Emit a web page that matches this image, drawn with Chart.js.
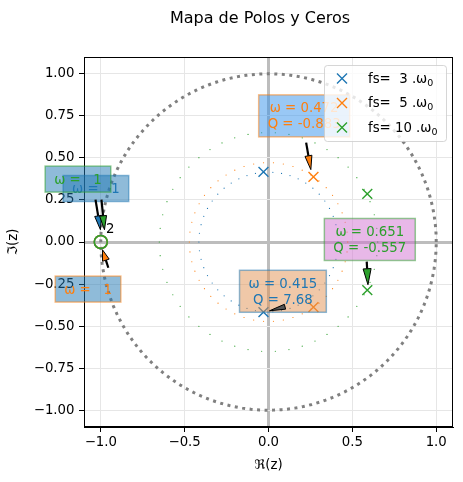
<!DOCTYPE html>
<html>
<head>
<meta charset="utf-8">
<script src="https://cdn.jsdelivr.net/npm/chart.js@4.4.1/dist/chart.umd.min.js"></script>
<style>html,body{margin:0;padding:0;background:#fff}</style>
</head>
<body>
<canvas id="chart" width="463" height="482"></canvas>
<script>
// data
const seriesLabels = ['fs=  3 .ω', 'fs=  5 .ω', 'fs= 10 .ω'];
const fs3PoleRe = [-0.03, -0.03],  fs3PoleIm = [0.417, -0.417];
const fs5PoleRe = [0.268, 0.268],  fs5PoleIm = [0.387, -0.387];
const fs10PoleRe = [0.589, 0.589], fs10PoleIm = [0.286, -0.286];
const zeroRe = [-1], zeroIm = [0];
const omegaRadii = [0.415, 0.472, 0.651];
const unitRadius = 1;
const xTicks = [-1, -0.5, 0, 0.5, 1];
const yTicks = [-1, -0.75, -0.5, -0.25, 0, 0.25, 0.5, 0.75, 1];

const C0 = '#1f77b4', C1 = '#ff7f0e', C2 = '#2ca02c';
const FONT = '"DejaVu Sans", sans-serif';

function ring(r, n){
  const pts = [];
  for(let i=0;i<=n;i++){ const a = 2*Math.PI*i/n; pts.push({x:r*Math.cos(a), y:r*Math.sin(a)}); }
  return pts;
}
const pairs = (re, im) => re.map((x,i)=>({x, y:im[i]}));

// annotation boxes (data coords of box centre)
const notes = [
  {lines:['ω =   1'], at:[-1.029, 0.318], color:C0, fill:'rgba(31,119,180,0.5)', edge:'rgba(31,119,180,0.5)'},
  {lines:['ω =   1'], at:[-1.076, -0.280], color:C1, fill:'rgba(31,119,180,0.5)', edge:'rgba(255,127,14,0.5)'},
  {lines:['ω =   1'], at:[-1.136, 0.374], color:C2, fill:'rgba(31,119,180,0.5)', edge:'rgba(44,160,44,0.5)'},
  {lines:['ω = 0.415','Q = 7.68'], at:[0.086, -0.293], color:C0, fill:'rgba(225,145,81,0.5)', edge:'rgba(31,119,180,0.5)'},
  {lines:['ω = 0.472','Q = -0.883'], at:[0.2125, 0.75], color:C1, fill:'rgba(51,145,235,0.5)', edge:'rgba(255,127,14,0.5)'},
  {lines:['ω = 0.651','Q = -0.557'], at:[0.604, 0.015], color:C2, fill:'rgba(209,113,209,0.5)', edge:'rgba(44,160,44,0.5)'}
];
// arrows: tail -> tip, in data coords
const arrows = [
  {from:[-1.0315, 0.252], to:[-1.002, 0.073], color:C0, len:14, w:3.5},
  {from:[-0.955, -0.153], to:[-0.99, -0.046], color:C1, len:11, w:3.5},
  {from:[-0.996, 0.252], to:[-0.978, 0.073], color:C2, len:14, w:3.5},
  {from:[0.0905, -0.387], to:[0.006, -0.409], color:'#555555', len:16, w:2.5},
  {from:[0.2244, 0.591], to:[0.2524, 0.4304], color:C1, len:14, w:3.5},
  {from:[0.5857, -0.117], to:[0.593, -0.254], color:C2, len:16, w:4}
];

function drawArrow(ctx, t, h, color, len, w){
  const dx = h[0]-t[0], dy = h[1]-t[1], L = Math.hypot(dx,dy);
  const ux = dx/L, uy = dy/L, nx = -uy, ny = ux;
  const bx = h[0]-ux*len, by = h[1]-uy*len;
  ctx.save();
  if(L > len){
    ctx.strokeStyle = '#000'; ctx.lineWidth = 2.2;
    ctx.beginPath(); ctx.moveTo(t[0],t[1]); ctx.lineTo(bx,by); ctx.stroke();
  }
  ctx.beginPath();
  ctx.moveTo(h[0],h[1]); ctx.lineTo(bx+nx*w, by+ny*w); ctx.lineTo(bx-nx*w, by-ny*w); ctx.closePath();
  ctx.fillStyle = color; ctx.fill();
  ctx.strokeStyle = '#000'; ctx.lineWidth = 1; ctx.stroke();
  ctx.restore();
}

const extras = {
  id:'extras',
  beforeDatasetsDraw(chart){
    const {ctx, chartArea:a} = chart;
    ctx.save();
    ctx.strokeStyle = '#000'; ctx.lineWidth = 1;
    ctx.strokeRect(a.left+0.5, a.top+0.5, a.right-a.left-1, a.bottom-a.top-1);
    ctx.restore();
  },
  afterDatasetsDraw(chart){
    const {ctx} = chart, sx = chart.scales.x, sy = chart.scales.y;
    const P = p => [sx.getPixelForValue(p[0]), sy.getPixelForValue(p[1])];
    ctx.save();
    ctx.font = '13.3px ' + FONT;
    ctx.textAlign = 'center'; ctx.textBaseline = 'middle';
    notes.forEach(n=>{
      const c = P(n.at), lh = 16;
      const w = Math.max(...n.lines.map(s=>ctx.measureText(s).width)) + 18;
      const h = n.lines.length*lh + 10;
      ctx.fillStyle = n.fill; ctx.fillRect(c[0]-w/2, c[1]-h/2, w, h);
      ctx.strokeStyle = n.edge; ctx.lineWidth = 1.5; ctx.strokeRect(c[0]-w/2, c[1]-h/2, w, h);
      ctx.fillStyle = n.color;
      n.lines.forEach((s,i)=>ctx.fillText(s, c[0], c[1]-h/2+5+lh*(i+0.5)+1));
    });
    arrows.forEach(a=>drawArrow(ctx, P(a.from), P(a.to), a.color, a.len, a.w));
    // multiplicity of the zero
    const m = P([-0.943, 0.073]);
    ctx.fillStyle = '#000'; ctx.fillText('2', m[0], m[1]);
    ctx.restore();
  },
  afterDraw(chart){
    const {ctx, chartArea:a} = chart;
    ctx.save();
    // title
    ctx.font = '16px ' + FONT; ctx.fillStyle = '#000';
    ctx.textAlign = 'center'; ctx.textBaseline = 'middle';
    ctx.fillText('Mapa de Polos y Ceros', 260, 18.5);
    // legend
    const lx = a.right-129, ly = a.top+8, lw = 122, lh = 76;
    ctx.beginPath(); ctx.roundRect(lx+0.5, ly+0.5, lw, lh, 3);
    ctx.fillStyle = 'rgba(255,255,255,0.8)'; ctx.fill();
    ctx.strokeStyle = 'rgba(204,204,204,0.8)'; ctx.lineWidth = 1; ctx.stroke();
    ctx.textAlign = 'left';
    const items = chart.data.datasets.filter(d=>d.label);
    items.forEach((d,i)=>{
      const y = ly + 13.5 + i*24.5, x = lx + 18;
      ctx.strokeStyle = d.borderColor; ctx.lineWidth = 1.4;
      ctx.beginPath(); ctx.moveTo(x-5,y-5); ctx.lineTo(x+5,y+5); ctx.moveTo(x-5,y+5); ctx.lineTo(x+5,y-5); ctx.stroke();
      ctx.fillStyle = '#000';
      ctx.font = '13.3px ' + FONT;
      ctx.fillText(d.label, lx + 44, y+1);
      const tw = ctx.measureText(d.label).width;
      ctx.font = '9.5px ' + FONT;
      ctx.fillText('0', lx + 44 + tw, y+5);
    });
    ctx.restore();
  }
};

const fmt = d => v => (v<0?'−':'') + Math.abs(v).toFixed(d);
const gridColor = c => c.tick && c.tick.value === 0 ? '#bdbdbd' : '#e6e6e6';
const gridWidth = c => c.tick && c.tick.value === 0 ? 3 : 1;

// note: Chart.js paints the first dataset on top
new Chart(document.getElementById('chart'), {
  type:'scatter',
  data:{datasets:[
    {label:seriesLabels[0], data:pairs(fs3PoleRe,fs3PoleIm), pointStyle:'crossRot', pointRadius:7, borderWidth:1.4, borderColor:C0, backgroundColor:C0},
    {label:seriesLabels[1], data:pairs(fs5PoleRe,fs5PoleIm), pointStyle:'crossRot', pointRadius:7, borderWidth:1.4, borderColor:C1, backgroundColor:C1},
    {label:seriesLabels[2], data:pairs(fs10PoleRe,fs10PoleIm), pointStyle:'crossRot', pointRadius:7, borderWidth:1.4, borderColor:C2, backgroundColor:C2},
    {data:pairs(zeroRe,zeroIm), pointStyle:'circle', pointRadius:6.5, borderWidth:1.5, borderColor:C2, backgroundColor:'rgba(0,0,0,0)'},
    {data:pairs(zeroRe,zeroIm), pointStyle:'circle', pointRadius:6.5, borderWidth:1.5, borderColor:C1, backgroundColor:'rgba(0,0,0,0)'},
    {data:pairs(zeroRe,zeroIm), pointStyle:'circle', pointRadius:6.5, borderWidth:1.5, borderColor:C0, backgroundColor:'rgba(0,0,0,0)'},
    {data:ring(unitRadius,240), showLine:true, borderColor:'#808080', borderWidth:3, borderDash:[3,4.5], pointRadius:0},
    {data:ring(omegaRadii[2],50), backgroundColor:C2, borderColor:C2, pointRadius:0.6, borderWidth:0},
    {data:ring(omegaRadii[1],50), backgroundColor:C1, borderColor:C1, pointRadius:0.6, borderWidth:0},
    {data:ring(omegaRadii[0],50), backgroundColor:C0, borderColor:C0, pointRadius:0.6, borderWidth:0}
  ]},
  options:{
    responsive:false, animation:false,
    layout:{padding:{top:57, right:10, left:0, bottom:0}},
    plugins:{legend:{display:false}, tooltip:{enabled:false}},
    scales:{
      x:{type:'linear', min:-1.1, max:1.1,
        afterBuildTicks:s=>{s.ticks = xTicks.map(v=>({value:v}));},
        afterFit:s=>{s.height = 55;},
        ticks:{callback:fmt(1), color:'#000', font:{family:FONT, size:13.3}, padding:3, maxRotation:0},
        grid:{color:gridColor, lineWidth:gridWidth, tickColor:'#000', tickLength:5, tickWidth:1},
        border:{display:true, color:'#000', width:1},
        title:{display:true, text:'ℜ(z)', color:'#000', font:{family:FONT, size:13.3}, padding:{top:0, bottom:8}}
      },
      y:{type:'linear', min:-1.1, max:1.1,
        afterBuildTicks:s=>{s.ticks = yTicks.map(v=>({value:v}));},
        afterFit:s=>{s.width = 84;},
        ticks:{callback:fmt(2), color:'#000', font:{family:FONT, size:13.3}, padding:4.5},
        grid:{color:gridColor, lineWidth:gridWidth, tickColor:'#000', tickLength:5, tickWidth:1},
        border:{display:true, color:'#000', width:1},
        title:{display:true, text:'ℑ(z)', color:'#000', font:{family:FONT, size:13.3}, padding:{top:6, bottom:0}}
      }
    }
  },
  plugins:[extras]
});
</script>
</body>
</html>
